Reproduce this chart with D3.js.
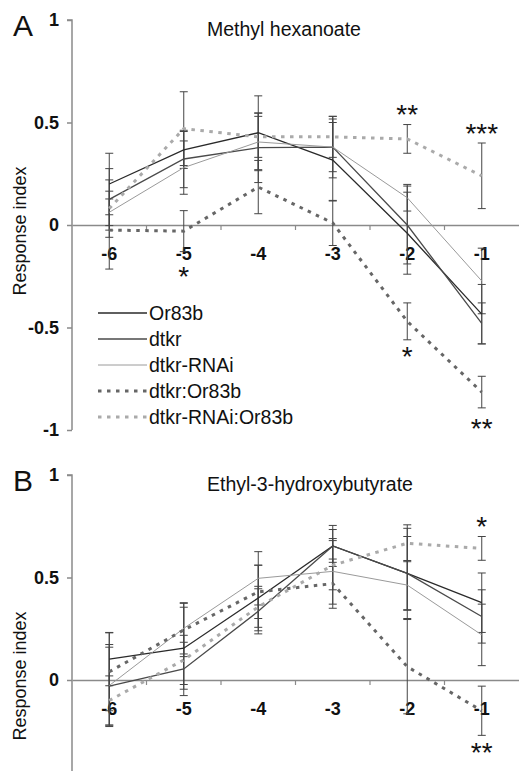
<!DOCTYPE html>
<html>
<head>
<meta charset="utf-8">
<script src="https://cdn.jsdelivr.net/npm/d3@7"></script>
<style>
  body { margin: 0; background: #fff; }
  svg { display: block; }
  text { font-family: "Liberation Sans", Arial, sans-serif; fill: #111; }
</style>
</head>
<body>
<svg width="519" height="771"></svg>
<script>
// concentrations (log dilution) on the x axis
const categories = [-6, -5, -4, -3, -2, -1];
const seriesNames = ['Or83b', 'dtkr', 'dtkr-RNAi', 'dtkr:Or83b', 'dtkr-RNAi:Or83b'];
const yTicksA = [1, 0.5, 0, -0.5, -1];
const yTicksB = [1, 0.5, 0];

// A: methyl hexanoate, one row per series (same order as seriesNames)
const methylMeans = [
  [0.20, 0.366, 0.45, 0.317, -0.04, -0.435],
  [0.125, 0.322, 0.377, 0.38, 0.0, -0.48],
  [0.062, 0.28, 0.405, 0.38, 0.133, -0.273],
  [-0.025, -0.03, 0.185, 0.01, -0.47, -0.815],
  [0.08, 0.47, 0.43, 0.43, 0.42, 0.24]
];
const methylErrors = [
  [0.15, 0.09, 0.18, 0.2, 0.2, 0.145],
  [0.15, 0.14, 0.17, 0.15, 0.19, 0.1],
  [0.065, 0.13, 0.14, 0.12, 0.065, 0.16],
  [0.19, 0.1, 0.13, 0.11, 0.09, 0.077],
  [0.14, 0.18, 0.1, 0.1, 0.07, 0.16]
];
const methylStars = [[-5, '*', -0.23], [-2, '**', 0.56], [-1, '***', 0.47], [-2, '*', -0.62], [-1, '**', -0.97]];

// B: ethyl-3-hydroxybutyrate
const ethylMeans = [
  [0.102, 0.155, 0.40, 0.654, 0.52, 0.377],
  [-0.03, 0.054, 0.335, 0.654, 0.52, 0.31],
  [-0.027, 0.252, 0.496, 0.53, 0.463, 0.22],
  [0.04, 0.244, 0.43, 0.47, 0.065, -0.15],
  [-0.1, 0.098, 0.357, 0.56, 0.667, 0.642]
];
const ethylErrors = [
  [0.13, 0.2, 0.16, 0.1, 0.22, 0.145],
  [0.19, 0.13, 0.11, 0.08, 0.18, 0.13],
  [0.2, 0.125, 0.13, 0.16, 0.12, 0.15],
  [0.19, 0.13, 0.13, 0.12, 0.23, 0.12],
  [0.12, 0.12, 0.1, 0.12, 0.09, 0.058]
];
const ethylStars = [[-1, '*', 0.77], [-1, '**', -0.33]];

// line styles per series
const lineColours = ['#2a2a2a', '#4a4a4a', '#9a9a9a', '#666', '#aaa'];
const lineWidths = [1.3, 1.3, 1, 3, 3];
const lineDash = [null, null, null, '3.5,5.5', '3.5,5.5'];

const svg = d3.select('svg');
const axisColour = '#8a8a8a';

const x = d3.scaleBand().domain(categories).range([72, 519]);
const cx = d => x(d) + x.bandwidth() / 2;

const drawPanel = (g, args) => {
  const { y, ticks, means, errors, title, letter, stars, yLabelY } = args;

  // y axis
  const yAxisG = g.append('g').attr('transform', 'translate(72,0)')
    .call(d3.axisLeft(y).tickValues(ticks).tickSize(5).tickPadding(8)
      .tickFormat(d => d === 0 ? '0' : String(d)));
  yAxisG.selectAll('path,line').attr('stroke', axisColour).attr('stroke-width', 1.5);
  yAxisG.select('.domain').attr('d', `M-5,${y(1)}H0V${y(-1)}`);
  yAxisG.selectAll('text').attr('font-size', 18).attr('font-weight', 'bold')
    .attr('font-family', '"Liberation Sans", Arial, sans-serif').attr('fill', '#111');

  // x axis along zero
  const y0 = y(0);
  const xAxisG = g.append('g').attr('transform', `translate(0,${y0})`)
    .call(d3.axisBottom(x).tickSize(0).tickPadding(22));
  xAxisG.select('.domain').attr('stroke', axisColour).attr('stroke-width', 1.5);
  xAxisG.selectAll('text').attr('font-size', 18).attr('font-weight', 'bold')
    .attr('font-family', '"Liberation Sans", Arial, sans-serif').attr('fill', '#111');
  g.append('g').selectAll('line').data(categories.slice(1))
    .join('line')
      .attr('x1', d => x(d)).attr('x2', d => x(d))
      .attr('y1', y0).attr('y2', y0 + 5)
      .attr('stroke', axisColour).attr('stroke-width', 1.2);

  // error bars
  const barsG = g.append('g').attr('stroke', '#444').attr('stroke-width', 1);
  means.forEach((row, si) => {
    row.forEach((v, ci) => {
      const e = errors[si][ci];
      const px = cx(categories[ci]);
      barsG.append('line').attr('x1', px).attr('x2', px).attr('y1', y(v + e)).attr('y2', y(v - e));
      [v + e, v - e].forEach(c => {
        barsG.append('line').attr('x1', px - 4).attr('x2', px + 4).attr('y1', y(c)).attr('y2', y(c));
      });
    });
  });

  // series lines
  const lineGen = d3.line().x((d, i) => cx(categories[i])).y(d => y(d));
  g.append('g').selectAll('path').data(means)
    .join('path')
      .attr('d', lineGen)
      .attr('fill', 'none')
      .attr('stroke', (d, i) => lineColours[i])
      .attr('stroke-width', (d, i) => lineWidths[i])
      .attr('stroke-dasharray', (d, i) => lineDash[i]);

  // significance stars
  g.append('g').selectAll('text').data(stars)
    .join('text')
      .attr('x', d => cx(d[0]))
      .attr('y', d => y(d[2]) + 14)
      .attr('text-anchor', 'middle')
      .attr('font-family', '"DejaVu Sans", sans-serif')
      .attr('font-size', 28)
      .attr('fill', '#222')
      .text(d => d[1]);

  g.append('text').attr('x', 207).attr('y', y(1) + 16).attr('font-size', 19.5).text(title);
  g.append('text').attr('x', 13).attr('y', y(1) + 16).attr('font-size', 30).text(letter);
  g.append('text')
    .attr('transform', `translate(26,${yLabelY}) rotate(-90)`)
    .attr('text-anchor', 'middle').attr('font-size', 18)
    .text('Response index');
};

drawPanel(svg.append('g'), {
  y: d3.scaleLinear().domain([-1, 1]).range([430, 20]), ticks: yTicksA,
  means: methylMeans, errors: methylErrors, stars: methylStars,
  title: 'Methyl hexanoate', letter: 'A', yLabelY: 231
});
drawPanel(svg.append('g'), {
  y: d3.scaleLinear().domain([-1, 1]).range([885, 475]), ticks: yTicksB,
  means: ethylMeans, errors: ethylErrors, stars: ethylStars,
  title: 'Ethyl-3-hydroxybutyrate', letter: 'B', yLabelY: 676
});

// legend inside panel A
const legendG = svg.append('g').attr('transform', 'translate(98,313)');
const legendRows = legendG.selectAll('g').data(seriesNames)
  .join('g').attr('transform', (d, i) => `translate(0,${i * 26})`);
legendRows.append('line')
  .attr('x1', 0).attr('x2', 49)
  .attr('stroke', (d, i) => lineColours[i])
  .attr('stroke-width', (d, i) => lineWidths[i])
  .attr('stroke-dasharray', (d, i) => lineDash[i]);
legendRows.append('text').attr('x', 51).attr('dy', '0.36em').attr('font-size', 19.5).text(d => d);
</script>
</body>
</html>
